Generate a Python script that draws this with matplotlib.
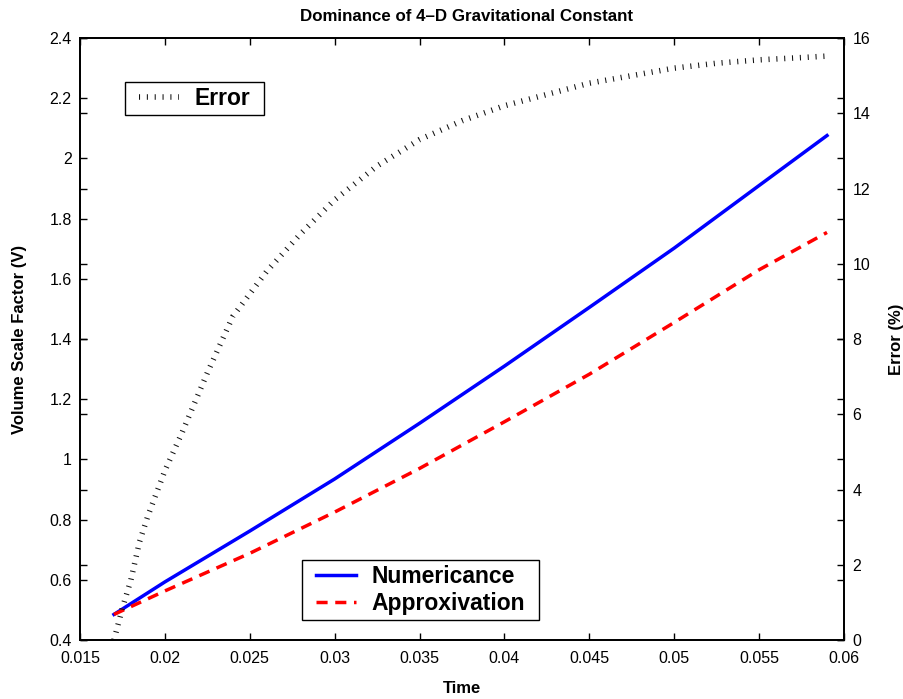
import numpy as np
import matplotlib.pyplot as plt
from matplotlib.patches import Rectangle

plt.rcParams['font.family'] = ['Liberation Sans', 'DejaVu Sans']
plt.rcParams['lines.scale_dashes'] = False

# time samples for the two volume curves
t = [0.017, 0.020, 0.025, 0.030, 0.035, 0.040, 0.045, 0.050, 0.055, 0.059]
numericance = [0.485, 0.593, 0.762, 0.935, 1.120, 1.310, 1.505, 1.702, 1.910, 2.076]
approxivation = [0.485, 0.563, 0.688, 0.825, 0.970, 1.125, 1.283, 1.455, 1.630, 1.754]

# relative error (%) between the two curves
t_err = [0.017, 0.0175, 0.018, 0.0185, 0.019, 0.020, 0.021, 0.0225, 0.024, 0.026,
         0.028, 0.030, 0.0325, 0.035, 0.0375, 0.040, 0.0425, 0.045, 0.0475,
         0.050, 0.0525, 0.055, 0.0575, 0.059]
error_pct = [0.0, 0.85, 1.6, 2.6, 3.3, 4.5, 5.5, 7.1, 8.6, 9.8,
             10.8, 11.7, 12.6, 13.3, 13.8, 14.2, 14.5, 14.8, 15.0,
             15.2, 15.33, 15.42, 15.48, 15.52]

xticks = [0.015, 0.02, 0.025, 0.03, 0.035, 0.04, 0.045, 0.05, 0.055, 0.06]
xticklabels = ['0.015', '0.02', '0.025', '0.03', '0.035', '0.04', '0.045', '0.05', '0.055', '0.06']
yticks = [0.4, 0.6, 0.8, 1.0, 1.2, 1.4, 1.6, 1.8, 2.0, 2.2, 2.4]
yticklabels = ['0.4', '0.6', '0.8', '1', '1.2', '1.4', '1.6', '1.8', '2', '2.2', '2.4']
y2ticks = [0, 2, 4, 6, 8, 10, 12, 14, 16]

fig = plt.figure(figsize=(9.04, 6.99), dpi=100)
ax = fig.add_axes([0.0885, 0.0844, 0.8451, 0.8612])

ax.plot(t, numericance, color='#0000ff', lw=2.5, label='Numericance')
ax.plot(t, approxivation, color='#ff0000', lw=2.5, dashes=(8, 5.5),
        dash_capstyle='butt', label='Approxivation')
ax.set_xlim(0.015, 0.06)
ax.set_ylim(0.4, 2.4)
ax.set_xticks(xticks)
ax.set_xticklabels(xticklabels)
ax.set_yticks(yticks)
ax.set_yticklabels(yticklabels)

ax2 = ax.twinx()
ax2.plot(t_err, error_pct, color='#111111', lw=4.0, dashes=(0.75, 4.9),
         dash_capstyle='butt', label='Error')
ax2.set_ylim(0, 16)
ax2.set_yticks(y2ticks)

ax.tick_params(direction='in', length=5, width=1, labelsize=11.5,
               top=True, right=True)
ax.tick_params(axis='x', pad=8)
ax.tick_params(axis='y', pad=6)
ax2.tick_params(direction='in', length=5, width=1, labelsize=11.5,
                left=True, right=True, labelleft=False, labelright=True, pad=6)
for a in (ax, ax2):
    for s in a.spines.values():
        s.set_linewidth(1.3)

# axis labels
ax.set_xlabel('Time', fontsize=12, fontweight='bold')
ax.xaxis.set_label_coords(0.5, -0.068)
ax.set_ylabel('Volume Scale Factor (V)', fontsize=12, fontweight='bold')
ax.yaxis.set_label_coords(-0.069, 0.5)
ax2.set_ylabel('Error (%)', fontsize=12, fontweight='bold')
ax2.yaxis.set_label_coords(1.059, 0.5)

fig.text(0.5155, 0.977, 'Dominance of 4\u2013D Gravitational Constant',
         ha='center', va='center', fontsize=12.2, fontweight='bold')

# legends without their own frame; a tight box is drawn round them below
leg_kw = dict(loc='center', frameon=False, prop=dict(weight='bold', size=16.5),
              borderaxespad=0, borderpad=0, handlelength=1.75,
              handletextpad=0.65, labelspacing=0.2)
leg1 = ax.legend(bbox_to_anchor=(0.4457, 0.0831), **leg_kw)
leg2 = ax2.legend(bbox_to_anchor=(0.1500, 0.8995), **leg_kw)

fig.canvas.draw()
W, H = fig.bbox.width, fig.bbox.height
for lg, (px, py) in ((leg1, (14.5, 5)), (leg2, (14, 5))):
    bb = lg.get_window_extent()
    fig.add_artist(Rectangle(((bb.x0 - px) / W, (bb.y0 - py) / H),
                             (bb.width + 2 * px) / W, (bb.height + 2 * py) / H,
                             transform=fig.transFigure, fill=False,
                             edgecolor='k', lw=1.0, zorder=10))

fig.savefig('out.png', dpi=100)
